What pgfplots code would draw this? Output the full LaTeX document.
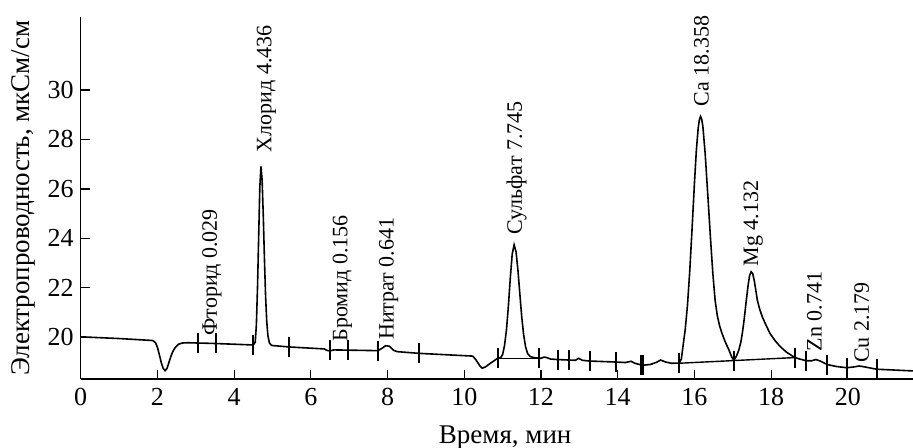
\documentclass[border=0pt]{standalone}
\usepackage{fontspec}
\setmainfont{Liberation Serif}
\usepackage{pgfplots}
\pgfplotsset{compat=1.18}
\begin{document}
\begin{tikzpicture}
\begin{axis}[
  scale only axis, width=416.15pt, height=180.85pt,
  xmin=0, xmax=21.7, ymin=18.314, ymax=32.94,
  axis lines=left, axis line style={-, line width=0.6pt},
  tick align=inside, major tick length=4.5pt, tick style={line width=0.6pt, black},
  xtick={0,2,...,20}, ytick={20,22,...,30},
  /pgf/number format/assume math mode=true,
  ticklabel style={font=\fontsize{13}{15}\selectfont},
  xticklabel style={yshift=-1.2pt},
  xlabel={Время, мин}, ylabel={Электропроводность, мкСм/см},
  label style={font=\fontsize{13.5}{16}\selectfont},
  xlabel style={at={(axis description cs:0.51,-0.177)}, anchor=base},
  ylabel style={at={(axis description cs:-0.0614,0.5)}, anchor=base},
  clip=false,
]
\addplot[black, line width=0.8pt] coordinates {
(0,20.02) (1.0,19.95) (1.88,19.87) (1.95,19.78) (2.0,19.6) (2.05,19.3) (2.1,18.98)
(2.15,18.74) (2.2,18.65) (2.25,18.74) (2.3,18.98) (2.35,19.22) (2.4,19.42) (2.47,19.6)
(2.55,19.72) (2.65,19.77) (2.8,19.78) (3.5,19.75) (4.5,19.69) (4.55,19.8) (4.58,20.5)
(4.61,22.03) (4.64,24.07) (4.67,26.07) (4.70,26.91) (4.73,26.35) (4.76,24.93) (4.79,23.19)
(4.82,21.68) (4.85,20.65) (4.88,20.08) (4.92,19.77) (4.98,19.67) (5.43,19.61) (6.35,19.53)
(6.42,19.47) (6.5,19.45) (6.6,19.49) (7.0,19.48) (7.75,19.46) (7.85,19.55) (7.95,19.66)
(8.05,19.64) (8.15,19.48) (8.25,19.42) (8.83,19.35) (10.22,19.24) (10.3,19.1) (10.4,18.86)
(10.47,18.75) (10.55,18.8) (10.7,18.97) (10.87,19.15) (10.95,19.18) (11.0,19.3) (11.05,19.67)
(11.10,20.29) (11.15,21.25) (11.20,22.39) (11.25,23.36) (11.30,23.74) (11.35,23.46)
(11.40,22.71) (11.45,21.74) (11.50,20.80) (11.55,20.08) (11.60,19.61) (11.65,19.35)
(11.72,19.22) (11.85,19.17) (12.0,19.15) (12.08,19.2) (12.15,19.18) (12.25,19.12)
(12.44,19.1) (12.74,19.08) (12.9,19.07) (12.98,19.15) (13.08,19.07) (13.27,19.04)
(13.96,19.0) (14.2,18.98) (14.35,19.03) (14.45,18.95) (14.64,18.87) (14.85,18.9)
(15.0,18.98) (15.12,19.08) (15.25,19.0) (15.4,18.95) (15.6,18.96) (15.66,19.12)
(15.70,19.6) (15.76,20.3) (15.82,21.3) (15.88,22.7) (15.94,24.4) (16.00,26.19)
(16.05,27.53) (16.10,28.48) (16.13,28.8) (16.16,28.93) (16.19,28.82) (16.22,28.55)
(16.28,27.45) (16.35,25.75) (16.42,24.0) (16.48,22.6) (16.54,21.5) (16.60,20.85)
(16.66,20.45) (16.72,20.16) (16.80,19.83) (16.90,19.49) (16.97,19.22) (17.03,19.06)
(17.10,19.25) (17.16,19.49) (17.21,19.8) (17.25,20.16) (17.30,20.75) (17.35,21.45)
(17.40,22.1) (17.44,22.5) (17.48,22.65) (17.52,22.58) (17.56,22.3) (17.60,21.92)
(17.64,21.51) (17.70,21.15) (17.77,20.83) (17.85,20.55) (17.97,20.16) (18.10,19.87)
(18.24,19.62) (18.40,19.4) (18.58,19.22) (18.70,19.14) (18.8,19.1) (18.92,19.05)
(19.05,19.05) (19.17,19.1) (19.28,19.04) (19.46,18.9) (19.7,18.82) (19.97,18.77)
(20.15,18.8) (20.3,18.84) (20.45,18.8) (20.75,18.71) (21.7,18.64)
};
\addplot[black, line width=0.7pt] coordinates {(10.87,19.15) (11.96,19.15)};
\addplot[black, line width=0.7pt] coordinates {(15.59,18.95) (18.62,19.18)};
\addplot[only marks, mark=|, mark size=5pt, mark options={black, line width=1pt}] coordinates {
(3.07,19.77) (3.52,19.75) (4.50,19.68) (5.43,19.61) (6.49,19.47) (6.97,19.48) (7.75,19.46)
(8.83,19.35) (10.87,19.15) (11.96,19.15) (12.44,19.1) (12.74,19.08) (13.27,19.04)
(13.96,19.0) (14.62,18.88) (14.66,18.87) (15.59,18.95) (17.03,19.06) (18.62,19.18)
(18.92,19.05) (19.46,18.9) (19.97,18.77) (20.75,18.71)
};
\begin{scope}[every node/.style={rotate=90, anchor=base west, inner sep=0pt, font=\fontsize{11}{13}\selectfont}]
\node at (axis cs:3.55,20.05) {Фторид 0.029};
\node at (axis cs:4.97,27.47) {Хлорид 4.436};
\node at (axis cs:6.95,19.82) {Бромид 0.156};
\node at (axis cs:8.16,19.88) {Нитрат 0.641};
\node at (axis cs:11.50,24.14) {Сульфат 7.745};
\node at (axis cs:16.37,29.32) {Ca 18.358};
\node at (axis cs:17.66,22.86) {Mg 4.132};
\node at (axis cs:19.32,19.42) {Zn 0.741};
\node at (axis cs:20.55,18.95) {Cu 2.179};
\end{scope}
\end{axis}
\pgfresetboundingbox
\path[use as bounding box] ([shift={(-40.35pt,-34.5pt)}]current axis.south west) rectangle ++(456.5pt,224pt);
\end{tikzpicture}
\end{document}
